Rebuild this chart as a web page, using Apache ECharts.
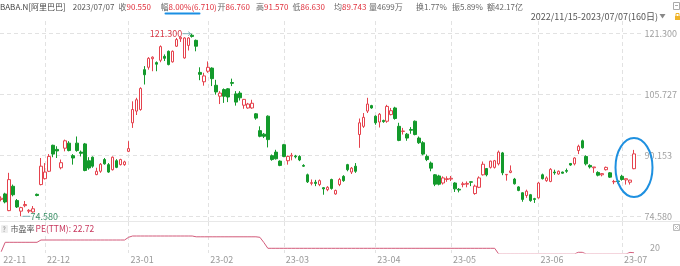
<!DOCTYPE html>
<html><head><meta charset="utf-8">
<script src="https://cdn.jsdelivr.net/npm/echarts@6/dist/echarts.min.js"></script>
<style>html,body{margin:0;padding:0;background:#fff}#c{width:680px;height:266px}</style>
</head><body><div id="c"></div>
<script>
// ---------------- DATA ----------------
const dates = [
'22-11-15','22-11-16','22-11-17','22-11-18','22-11-21','22-11-22','22-11-23','22-11-25','22-11-28','22-11-29','22-11-30',
'22-12-01','22-12-02','22-12-05','22-12-06','22-12-07','22-12-08','22-12-09','22-12-12','22-12-13','22-12-14','22-12-15','22-12-16','22-12-19','22-12-20','22-12-21','22-12-22','22-12-23','22-12-27','22-12-28','22-12-29','22-12-30',
'23-01-03','23-01-04','23-01-05','23-01-06','23-01-09','23-01-10','23-01-11','23-01-12','23-01-13','23-01-17','23-01-18','23-01-19','23-01-20','23-01-23','23-01-24','23-01-25','23-01-26','23-01-27','23-01-30','23-01-31',
'23-02-01','23-02-02','23-02-03','23-02-06','23-02-07','23-02-08','23-02-09','23-02-10','23-02-13','23-02-14','23-02-15','23-02-16','23-02-17','23-02-21','23-02-22','23-02-23','23-02-24','23-02-27','23-02-28',
'23-03-01','23-03-02','23-03-03','23-03-06','23-03-07','23-03-08','23-03-09','23-03-10','23-03-13','23-03-14','23-03-15','23-03-16','23-03-17','23-03-20','23-03-21','23-03-22','23-03-23','23-03-24','23-03-27','23-03-28','23-03-29','23-03-30','23-03-31',
'23-04-03','23-04-04','23-04-05','23-04-06','23-04-10','23-04-11','23-04-12','23-04-13','23-04-14','23-04-17','23-04-18','23-04-19','23-04-20','23-04-21','23-04-24','23-04-25','23-04-26','23-04-27','23-04-28',
'23-05-01','23-05-02','23-05-03','23-05-04','23-05-05','23-05-08','23-05-09','23-05-10','23-05-11','23-05-12','23-05-15','23-05-16','23-05-17','23-05-18','23-05-19','23-05-22','23-05-23','23-05-24','23-05-25','23-05-26','23-05-30','23-05-31',
'23-06-01','23-06-02','23-06-05','23-06-06','23-06-07','23-06-08','23-06-09','23-06-12','23-06-13','23-06-14','23-06-15','23-06-16','23-06-20','23-06-21','23-06-22','23-06-23','23-06-26','23-06-27','23-06-28','23-06-29','23-06-30',
'23-07-03','23-07-05','23-07-06','23-07-07'
];

// [open, close, low, high]
const candles = [
[78.9,79.2,78.4,79.7],[80.3,78.25,77.9,80.6],[76.03,83.97,75.9,85.7],[82.26,80.1,79.7,82.7],[78.6,76.97,76.7,79.0],
[75.9,76.8,74.58,77.0],[77.3,77.6,76.9,78.5],[75.9,76.1,75.4,76.4],[75.7,76.5,75.5,77.2],[80.2,79.9,79.7,80.4],
[82.7,87.4,82.5,89.5],[84.2,85.9,84.0,88.2],[86.1,89.9,85.9,90.5],[92.75,90.5,89.7,92.9],[91.7,91.3,89.5,92.5],
[87.0,88.3,86.6,89.1],[92.0,93.9,91.2,94.2],[93.3,91.4,91.2,93.8],[90.1,89.5,87.8,90.5],[93.3,91.4,91.1,95.0],
[91.0,90.7,89.9,91.4],[93.1,86.3,86.1,93.35],[88.8,86.95,86.5,89.7],[89.7,87.4,87.0,89.9],[85.25,86.1,85.1,87.0],
[86.1,87.9,85.7,88.2],[89.1,88.0,87.8,89.5],[87.8,85.9,85.7,88.2],[86.5,89.7,86.3,89.9],[88.8,87.1,86.9,89.2],
[87.8,89.1,87.6,89.3],[87.8,88.5,87.5,88.8],[91.2,91.9,91.0,93.8],[98.5,101.9,97.2,104.0],[101.5,104.4,100.5,104.9],
[101.9,107.3,101.6,107.6],[112.1,110.8,108.3,113.0],[112.7,115.0,112.1,115.3],[114.9,115.3,111.7,115.5],[113.9,113.5,111.7,114.2],
[114.5,118.0,114.0,118.3],[115.5,115.0,114.3,116.0],[116.8,113.4,113.2,117.0],[114.1,116.8,113.9,117.0],[118.1,119.8,117.9,120.2],
[120.0,120.4,119.2,120.6],[115.1,120.2,114.9,120.4],[118.3,120.2,117.0,120.4],[120.9,120.6,120.3,121.3],[119.6,118.1,116.8,119.8],
[111.4,110.9,109.4,112.7],[109.0,110.5,108.0,111.3],[111.7,112.7,111.3,114.2],[112.5,109.8,107.9,112.7],[108.1,106.4,105.7,109.5],
[105.3,106.1,103.3,106.6],[107.0,105.3,103.6,107.3],[107.2,105.1,103.8,107.4],[108.8,108.6,107.9,109.8],[105.9,103.8,102.9,106.6],
[106.1,104.9,104.2,106.6],[103.0,104.5,102.1,104.6],[102.3,103.3,102.1,103.6],[102.3,103.5,102.1,104.4],[100.8,99.7,99.3,101.0],
[96.5,95.05,94.8,97.6],[95.6,95.05,94.6,95.9],[100.2,94.2,92.2,100.4],[90.1,89.1,88.8,90.4],[91.0,89.3,89.1,91.6],
[88.7,87.6,87.4,88.9],[92.9,89.9,89.7,93.1],[88.8,89.9,87.8,90.1],[90.0,90.2,88.9,90.8],[90.0,89.8,89.4,90.3],
[89.9,89.0,88.7,90.2],[87.6,87.4,87.2,87.9],[85.2,83.4,83.1,85.5],[83.0,83.2,82.5,84.0],[83.3,83.0,82.3,83.9],
[82.7,83.7,82.3,84.0],[81.9,81.6,80.1,82.0],[81.4,82.0,81.0,82.3],[84.0,81.7,81.4,84.2],[80.3,81.2,80.1,81.4],
[82.7,84.0,82.3,84.4],[84.8,83.7,83.4,85.1],[87.8,86.5,86.1,88.0],[85.9,86.9,85.4,87.2],[87.4,86.1,85.7,88.2],
[95.5,98.5,92.1,99.6],[97.6,99.9,97.2,101.0],[101.5,103.3,101.0,104.9],[102.9,102.3,102.1,103.1],[100.2,98.5,98.0,100.4],
[98.7,100.7,97.3,101.0],[99.1,98.8,98.5,99.3],[98.9,102.7,98.5,103.1],[100.6,101.6,100.4,102.3],[102.3,99.6,99.3,102.6],
[97.6,94.0,93.8,98.5],[96.3,96.4,95.5,97.2],[95.6,94.6,93.9,95.9],[96.8,96.6,95.7,97.4],[98.9,95.5,95.3,99.1],
[94.6,93.4,93.1,95.0],[93.4,90.5,90.2,93.8],[89.9,89.1,88.7,90.4],[88.2,86.9,86.1,88.6],[85.2,82.8,82.3,85.4],
[84.9,82.8,82.5,85.2],[83.1,84.4,82.7,84.8],[84.0,84.2,83.4,84.8],[84.1,84.3,83.6,84.9],[83.1,81.6,80.8,83.3],
[81.5,81.3,80.7,81.8],[82.7,82.9,82.0,83.4],[82.8,83.0,82.0,83.5],[83.4,83.3,82.3,83.5],[80.4,82.3,80.1,82.7],
[82.0,84.4,81.8,84.8],[85.2,87.9,85.0,88.6],[86.8,85.2,84.8,86.9],[87.1,88.7,86.8,88.8],[87.1,88.8,86.8,89.0],
[88.0,91.0,87.6,91.4],[90.8,85.7,85.1,91.05],[85.2,85.3,83.7,85.4],[85.8,86.2,85.6,87.6],[84.1,82.9,82.7,84.4],
[82.1,81.2,81.0,82.3],[80.6,78.9,78.3,80.7],[79.9,81.0,79.3,81.4],[80.1,78.6,78.3,80.3],[79.1,78.9,78.0,79.3],
[79.3,83.1,79.1,83.4],[85.2,84.2,84.0,85.5],[83.7,84.4,83.4,84.8],[83.5,86.6,83.3,86.9],[85.9,85.7,85.2,86.5],
[85.4,86.1,85.2,86.3],[85.9,85.6,85.5,86.0],[86.3,86.1,85.7,86.8],[88.1,87.7,87.5,88.2],[88.0,89.5,87.6,89.7],
[91.4,92.5,90.5,92.9],[93.9,92.1,91.9,94.2],[89.9,88.0,87.6,90.2],[87.6,87.2,86.8,87.9],[87.0,87.2,85.7,87.2],
[85.8,85.1,84.8,86.1],[85.2,85.5,84.8,85.6],[86.5,87.1,86.3,87.3],[85.7,84.6,84.4,85.9],[83.4,83.5,82.8,83.9],
[83.6,83.5,83.0,84.0],[84.8,84.0,83.7,85.2],[83.9,84.2,82.7,84.2],[83.3,83.84,82.7,83.9],[86.76,90.55,86.63,91.57]
];

const peValues = [
19.63,
20.57,20.57,20.57,20.57,20.57,20.57,20.57,20.57,20.57,
20.8,20.8,20.8,20.8,20.8,20.8,20.8,20.8,20.8,20.8,20.8,20.8,20.8,20.8,20.8,20.8,20.8,20.8,20.8,20.8,20.8,20.8,
21.07,
21.2,21.2,21.2,21.2,21.2,21.2,21.2,21.2,21.2,21.2,21.2,21.2,21.2,21.2,21.2,21.2,
21.12,21.12,21.12,21.12,21.12,21.12,21.12,21.12,21.12,21.12,21.12,21.12,21.12,21.12,21.12,21.12,
21.07,20.55,
19.97,19.97,19.97,19.97,19.97,19.97,19.97,19.97,19.97,19.97,19.97,19.97,19.97,19.97,19.97,19.97,19.97,19.97,19.97,19.97,
19.97,19.97,19.97,19.97,19.97,19.97,19.97,19.97,19.97,19.97,19.97,19.97,19.97,19.97,19.97,19.97,19.97,19.97,19.97,19.97,
19.97,19.97,19.97,19.97,19.97,19.97,19.97,19.97,19.97,19.97,19.97,19.97,19.97,19.97,19.97,19.97,19.97,19.97,
19.4,19.4,19.4,19.4,19.4,19.4,19.4,19.4,19.4,19.4,19.4,19.4,19.4,19.4,19.4,19.4,19.4,19.4,19.4,
19.4,19.57,19.57,
19.4,19.4,19.4,19.4,19.4,19.4,19.4,19.4,19.4,19.4,19.4,
19.56,19.52
];

const yTickLabels = ['74.580','90.153','105.727','121.300'];
const peTick = 20;

const headerTexts = ['BABA.N[阿里巴巴]','2023/07/07','收','90.550','幅','8.00%(6.710)','开','86.760','高','91.570','低','86.630','均','89.743','量4699万','换1.77%','振5.89%','额42.17亿'];
const rangeText = '2022/11/15-2023/07/07(160日)';
const peTitle = '市盈率';
const peText = 'PE(TTM): 22.72';

// ---------------- LAYOUT / STYLE ----------------
const headerX = [0,72.7,118.5,126.5,160.5,168.5,217.5,225.5,256,264,292.5,300.5,334,342,369,416,452,487];
const headerColor = ['#444','#555','#666','#e0303c','#666','#e0303c','#666','#e0303c','#666','#e0303c','#666','#e0303c','#666','#e0303c','#666','#666','#666','#666'];
const FONT = '"Noto Sans CJK SC","Noto Sans",sans-serif';
const UP = '#e5424d', DOWN = '#139a2b';
const GRIDC = '#e2e2e2';

const yMin = parseFloat(yTickLabels[0]), yMax = parseFloat(yTickLabels[yTickLabels.length-1]);
const pxUnit = (yMax - yMin) / 182.6;
const isMonthStart = i => i > 0 && dates[i].slice(0,5) !== dates[i-1].slice(0,5);
const monthLabel = i => i === 0 || isMonthStart(i);

const chart = echarts.init(document.getElementById('c'), null, {renderer:'canvas'});
chart.setOption({
  animation: false,
  backgroundColor: '#fff',
  grid: [
    {left: 1.2, width: 632.8, top: 21, height: 200.5},
    {left: 0, width: 647, top: 33.7, height: 182.6},
    {left: 1.2, width: 632.8, top: 222, height: 31}
  ],
  xAxis: [
    {type:'category', gridIndex:0, data: dates, boundaryGap:false,
     axisLine:{show:false}, axisTick:{show:false}, axisLabel:{show:false},
     splitLine:{show:true, interval:(i)=>isMonthStart(i), lineStyle:{color:GRIDC, type:[4,3], width:1}}},
    {type:'value', gridIndex:1, show:false, min:0, max:1},
    {type:'category', gridIndex:2, data: dates, boundaryGap:false,
     axisLine:{show:false}, axisTick:{show:false},
     axisLabel:{show:true, interval:(i)=>monthLabel(i), formatter:(v)=>v.slice(0,5), align:'left', margin:2,
       color:'#999', fontSize:9, fontFamily:FONT, padding:[0,0,0,2]},
     splitLine:{show:true, interval:(i)=>isMonthStart(i), lineStyle:{color:GRIDC, type:[4,3], width:1}}}
  ],
  yAxis: [
    {type:'value', gridIndex:0, min: yMin - 5.2*pxUnit, max: yMax + 12.7*pxUnit, show:false, splitLine:{show:false}},
    {type:'value', gridIndex:1, position:'right', min:0, max:yTickLabels.length-1, interval:1,
     axisLine:{show:false}, axisTick:{show:false},
     axisLabel:{margin:2, color:'#a0a0a0', fontSize:9, fontFamily:FONT, formatter:(v)=>yTickLabels[Math.round(v)]},
     splitLine:{show:true, lineStyle:{color:GRIDC, type:[4,3], width:1}}},
    {type:'value', gridIndex:2, position:'right', min:19.5, max:22.6, interval:0.1,
     axisLine:{show:false}, axisTick:{show:false}, splitLine:{show:false},
     axisLabel:{margin:16, color:'#a0a0a0', fontSize:9, fontFamily:FONT,
       formatter:(v)=> Math.abs(v-peTick)<1e-6 ? String(peTick) : ''}}
  ],
  series: [
    {type:'candlestick', xAxisIndex:0, yAxisIndex:0, data:candles, barWidth:3,
     itemStyle:{color:'#fff', color0:DOWN, borderColor:UP, borderColor0:DOWN, borderWidth:1}},
    {type:'line', xAxisIndex:2, yAxisIndex:2, data:peValues, showSymbol:false, symbol:'none',
     lineStyle:{color:'#d25a7a', width:1}, clip:true}
  ]
});

// ---------------- ANNOTATIONS ----------------
const g = [];
function txt(t, x, y, fill, size, align){
  g.push({type:'text', x:x, y:y, z:100, style:{text:t, fill:fill, font: size+'px '+FONT,
    textAlign:align||'left', textVerticalAlign:'middle', align:align||'left', verticalAlign:'middle'}});
}
headerTexts.forEach((t,i)=>txt(t, headerX[i], 6.5, headerColor[i], 8));
g.push({type:'line', z:100, shape:{x1:165.5,y1:13.5,x2:199.5,y2:13.5}, style:{stroke:'#1a8fe3', lineWidth:2, lineCap:'round'}});
txt(rangeText, 658, 16.5, '#555', 9, 'right');
g.push({type:'polygon', z:100, shape:{points:[[659.5,14],[665.5,14],[662.5,18.5]]}, style:{fill:'#888'}});
// top-right icons
g.push({type:'rect', z:100, shape:{x:673.5,y:2.5,width:6,height:7}, style:{fill:'none', stroke:'#aaa', lineWidth:1}});
g.push({type:'line', z:100, shape:{x1:675,y1:5.5,x2:678,y2:5.5}, style:{stroke:'#aaa', lineWidth:1}});
g.push({type:'rect', z:100, shape:{x:675,y:16,width:5,height:4}, style:{fill:'#f0b429'}});
g.push({type:'rect', z:100, shape:{x:676,y:13.5,width:3,height:3}, style:{fill:'none', stroke:'#f0b429', lineWidth:1}});
// separator
g.push({type:'line', z:5, shape:{x1:0,y1:221.5,x2:680,y2:221.5}, style:{stroke:'#e8e8e8', lineWidth:1}});
// PE subtitle
g.push({type:'rect', z:100, shape:{x:1,y:225,width:7,height:8,r:1}, style:{fill:'#eeeeee'}});
txt('?', 2.5, 229.2, '#888', 7);
txt(peTitle, 10.5, 229, '#555', 8);
txt(peText, 35.5, 229, '#c8385e', 8.5);
// close box in sub chart
g.push({type:'rect', z:100, shape:{x:673.5,y:224.5,width:6,height:6}, style:{fill:'none', stroke:'#bbb', lineWidth:1}});
g.push({type:'line', z:100, shape:{x1:674.5,y1:225.5,x2:678.5,y2:229.5}, style:{stroke:'#bbb', lineWidth:1}});
g.push({type:'line', z:100, shape:{x1:678.5,y1:225.5,x2:674.5,y2:229.5}, style:{stroke:'#bbb', lineWidth:1}});

// max / min markers computed from data
let iMax = 0, iMin = 0;
candles.forEach((c,i)=>{ if (c[3] > candles[iMax][3]) iMax = i; if (c[2] < candles[iMin][2]) iMin = i; });
const pMax = chart.convertToPixel({gridIndex:0}, [iMax, candles[iMax][3]]);
const pMin = chart.convertToPixel({gridIndex:0}, [iMin, candles[iMin][2]]);
g.push({type:'line', z:100, shape:{x1:pMax[0]-9.5,y1:pMax[1],x2:pMax[0]-1.5,y2:pMax[1]}, style:{stroke:'#7fb0b5', lineWidth:1}});
g.push({type:'polyline', z:100, shape:{points:[[pMax[0]-4,pMax[1]-2],[pMax[0]-1.5,pMax[1]],[pMax[0]-4,pMax[1]+2]]}, style:{stroke:'#7fb0b5', lineWidth:1, fill:'none'}});
txt(candles[iMax][3].toFixed(3), pMax[0]-10, pMax[1], '#d83a48', 9, 'right');
g.push({type:'line', z:100, shape:{x1:pMin[0]+1.5,y1:pMin[1],x2:pMin[0]+9,y2:pMin[1]}, style:{stroke:'#7fb0b5', lineWidth:1}});
txt(candles[iMin][2].toFixed(3), pMin[0]+9.5, pMin[1], '#3a8f66', 9, 'left');

// highlight ellipse around last candle
const last = candles.length - 1;
const pLast = chart.convertToPixel({gridIndex:0}, [last, candles[last][2]]);
g.push({type:'ellipse', z:100, shape:{cx:pLast[0], cy:pLast[1]-1.7, rx:18.5, ry:29.5}, style:{fill:'none', stroke:'#1e90e0', lineWidth:2}});

chart.setOption({graphic: g});
</script></body></html>
